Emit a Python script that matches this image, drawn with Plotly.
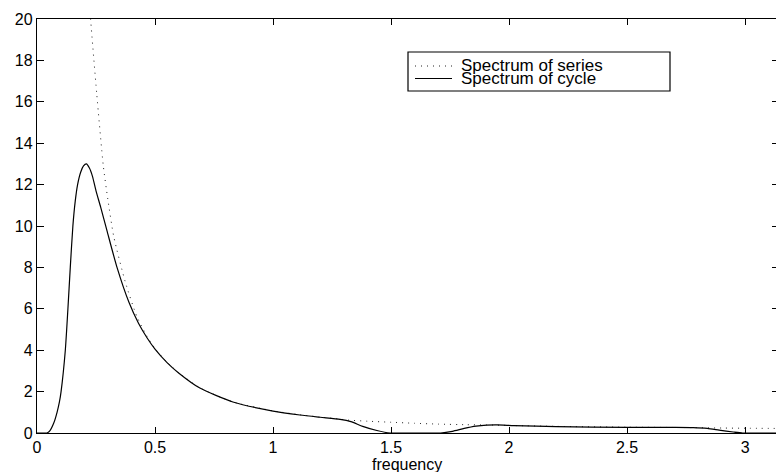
import plotly.graph_objects as go

# ---- data ----
cycle_freq = [0.0, 0.03, 0.042, 0.055, 0.071, 0.085, 0.095, 0.102, 0.12, 0.131, 0.141, 0.152,
              0.162, 0.172, 0.185, 0.197, 0.209, 0.222, 0.235, 0.25, 0.27, 0.297, 0.339, 0.39,
              0.43, 0.466, 0.5, 0.551, 0.6, 0.69, 0.83, 1.0, 1.114, 1.2, 1.284, 1.33, 1.38,
              1.44, 1.496, 1.55, 1.65, 1.71, 1.76, 1.81, 1.86, 1.905, 1.95, 2.02, 2.2, 2.5,
              2.7, 2.78, 2.84, 2.89, 2.95, 2.99, 3.05, 3.14]
cycle_power = [0, 0, 0, 0.12, 0.48, 1.0, 1.5, 2.0, 4.0, 6.0, 8.0, 10.0,
               11.2, 12.0, 12.6, 12.9, 13.0, 12.8, 12.4, 11.7, 10.9, 9.75, 8.0, 6.3,
               5.3, 4.6, 4.05, 3.4, 2.9, 2.17, 1.5, 1.06, 0.87, 0.76, 0.66, 0.55, 0.32,
               0.12, 0.0, 0, 0, 0, 0.08, 0.22, 0.33, 0.38, 0.39, 0.36, 0.31, 0.27,
               0.27, 0.26, 0.22, 0.14, 0.05, 0.0, 0, 0]

series_freq = [0.17, 0.19, 0.205, 0.215, 0.227, 0.253, 0.281, 0.3, 0.325, 0.374, 0.424, 0.466,
               0.5, 0.551, 0.6, 0.69, 0.83, 1.0, 1.114, 1.2, 1.284, 1.31, 1.4, 1.5, 1.6, 1.7,
               1.82, 1.905, 2.02, 2.2, 2.5, 2.78, 2.9, 3.0, 3.14]
series_power = [40, 30, 24.5, 22, 20, 16.4, 12.9, 11.3, 9.5, 7.3, 5.6, 4.68,
                4.08, 3.42, 2.92, 2.18, 1.5, 1.07, 0.88, 0.77, 0.67, 0.63, 0.57, 0.52, 0.47, 0.43,
                0.40, 0.39, 0.36, 0.32, 0.28, 0.26, 0.24, 0.23, 0.22]

x_ticks = [0, 0.5, 1, 1.5, 2, 2.5, 3]
x_tick_labels = ["0", "0.5", "1", "1.5", "2", "2.5", "3"]
y_ticks = [0, 2, 4, 6, 8, 10, 12, 14, 16, 18, 20]
y_tick_labels = [str(v) for v in y_ticks]
legend_labels = ["Spectrum of series", "Spectrum of cycle"]
x_title = "frequency"

FONT = "Liberation Sans, Arial, Helvetica, sans-serif"
FS = 16
FS_LEG = 17
DOT = "1px,5px"

fig = go.Figure()
fig.add_trace(go.Scatter(
    x=series_freq, y=series_power, mode="lines", name=legend_labels[0],
    line=dict(color="#222222", width=1, dash=DOT, shape="spline", smoothing=0.6),
    showlegend=False))
fig.add_trace(go.Scatter(
    x=cycle_freq, y=cycle_power, mode="lines", name=legend_labels[1],
    line=dict(color="black", width=1.2, shape="spline", smoothing=0.6),
    showlegend=False))
# helper trace so the right-hand tick axis is drawn
fig.add_trace(go.Scatter(x=[None], y=[None], yaxis="y2", showlegend=False,
                         hoverinfo="skip", mode="lines"))

axis_common = dict(showgrid=False, zeroline=False, ticks="inside", tickcolor="black",
                   tickwidth=1, automargin=False,
                   tickfont=dict(family=FONT, size=FS, color="black"))

fig.update_layout(
    width=776, height=472,
    margin=dict(l=37, r=0, t=19, b=39),
    paper_bgcolor="white", plot_bgcolor="white",
    font=dict(family=FONT, size=FS, color="black"),
    showlegend=False,
    xaxis=dict(range=[0, 3.131], tickvals=x_ticks, ticktext=x_tick_labels, ticklen=6,
               showline=True, linecolor="black", linewidth=1.3, mirror="ticks",
               **axis_common),
    yaxis=dict(range=[0, 20], tickvals=y_ticks, ticktext=y_tick_labels, ticklen=7,
               showline=True, linecolor="black", linewidth=1.3, mirror=False,
               **axis_common),
    yaxis2=dict(range=[0, 20], overlaying="y", side="right", tickvals=y_ticks, ticklen=4,
                showticklabels=False, showline=False, showgrid=False, zeroline=False,
                ticks="inside", tickcolor="black", tickwidth=1, automargin=False),
)

# x-axis title placed just below the tick labels, as in the reference
fig.add_annotation(xref="paper", yref="paper", x=0.5, y=(433 - 465) / 414, text=x_title,
                   showarrow=False, xanchor="center", yanchor="middle", borderpad=0,
                   font=dict(family=FONT, size=FS, color="black"))

# manual MATLAB-style legend box
x0p, x1p = (408 - 37) / 739, (670 - 37) / 739
y0p, y1p = (433 - 91) / 414, (433 - 52) / 414
fig.add_shape(type="rect", xref="paper", yref="paper", x0=x0p, x1=x1p, y0=y0p, y1=y1p,
              line=dict(color="black", width=1.2), fillcolor="white", layer="above")
row_y = [(433 - 66) / 414, (433 - 78.5) / 414]
sx0, sx1, tx = (415 - 37) / 739, (452 - 37) / 739, (460 - 37) / 739
styles = [dict(color="#222222", width=1, dash=DOT), dict(color="black", width=1.2)]
for label, ry, st in zip(legend_labels, row_y, styles):
    fig.add_shape(type="line", xref="paper", yref="paper", x0=sx0, x1=sx1, y0=ry, y1=ry,
                  line=st, layer="above")
    fig.add_annotation(xref="paper", yref="paper", x=tx, y=ry, text=label, showarrow=False,
                       xanchor="left", yanchor="middle", borderpad=0,
                       font=dict(family=FONT, size=FS_LEG, color="black"))

fig.write_html("out.html", config={"displayModeBar": False},
               post_script="document.body.style.margin='0px';document.body.style.overflow='hidden';")
